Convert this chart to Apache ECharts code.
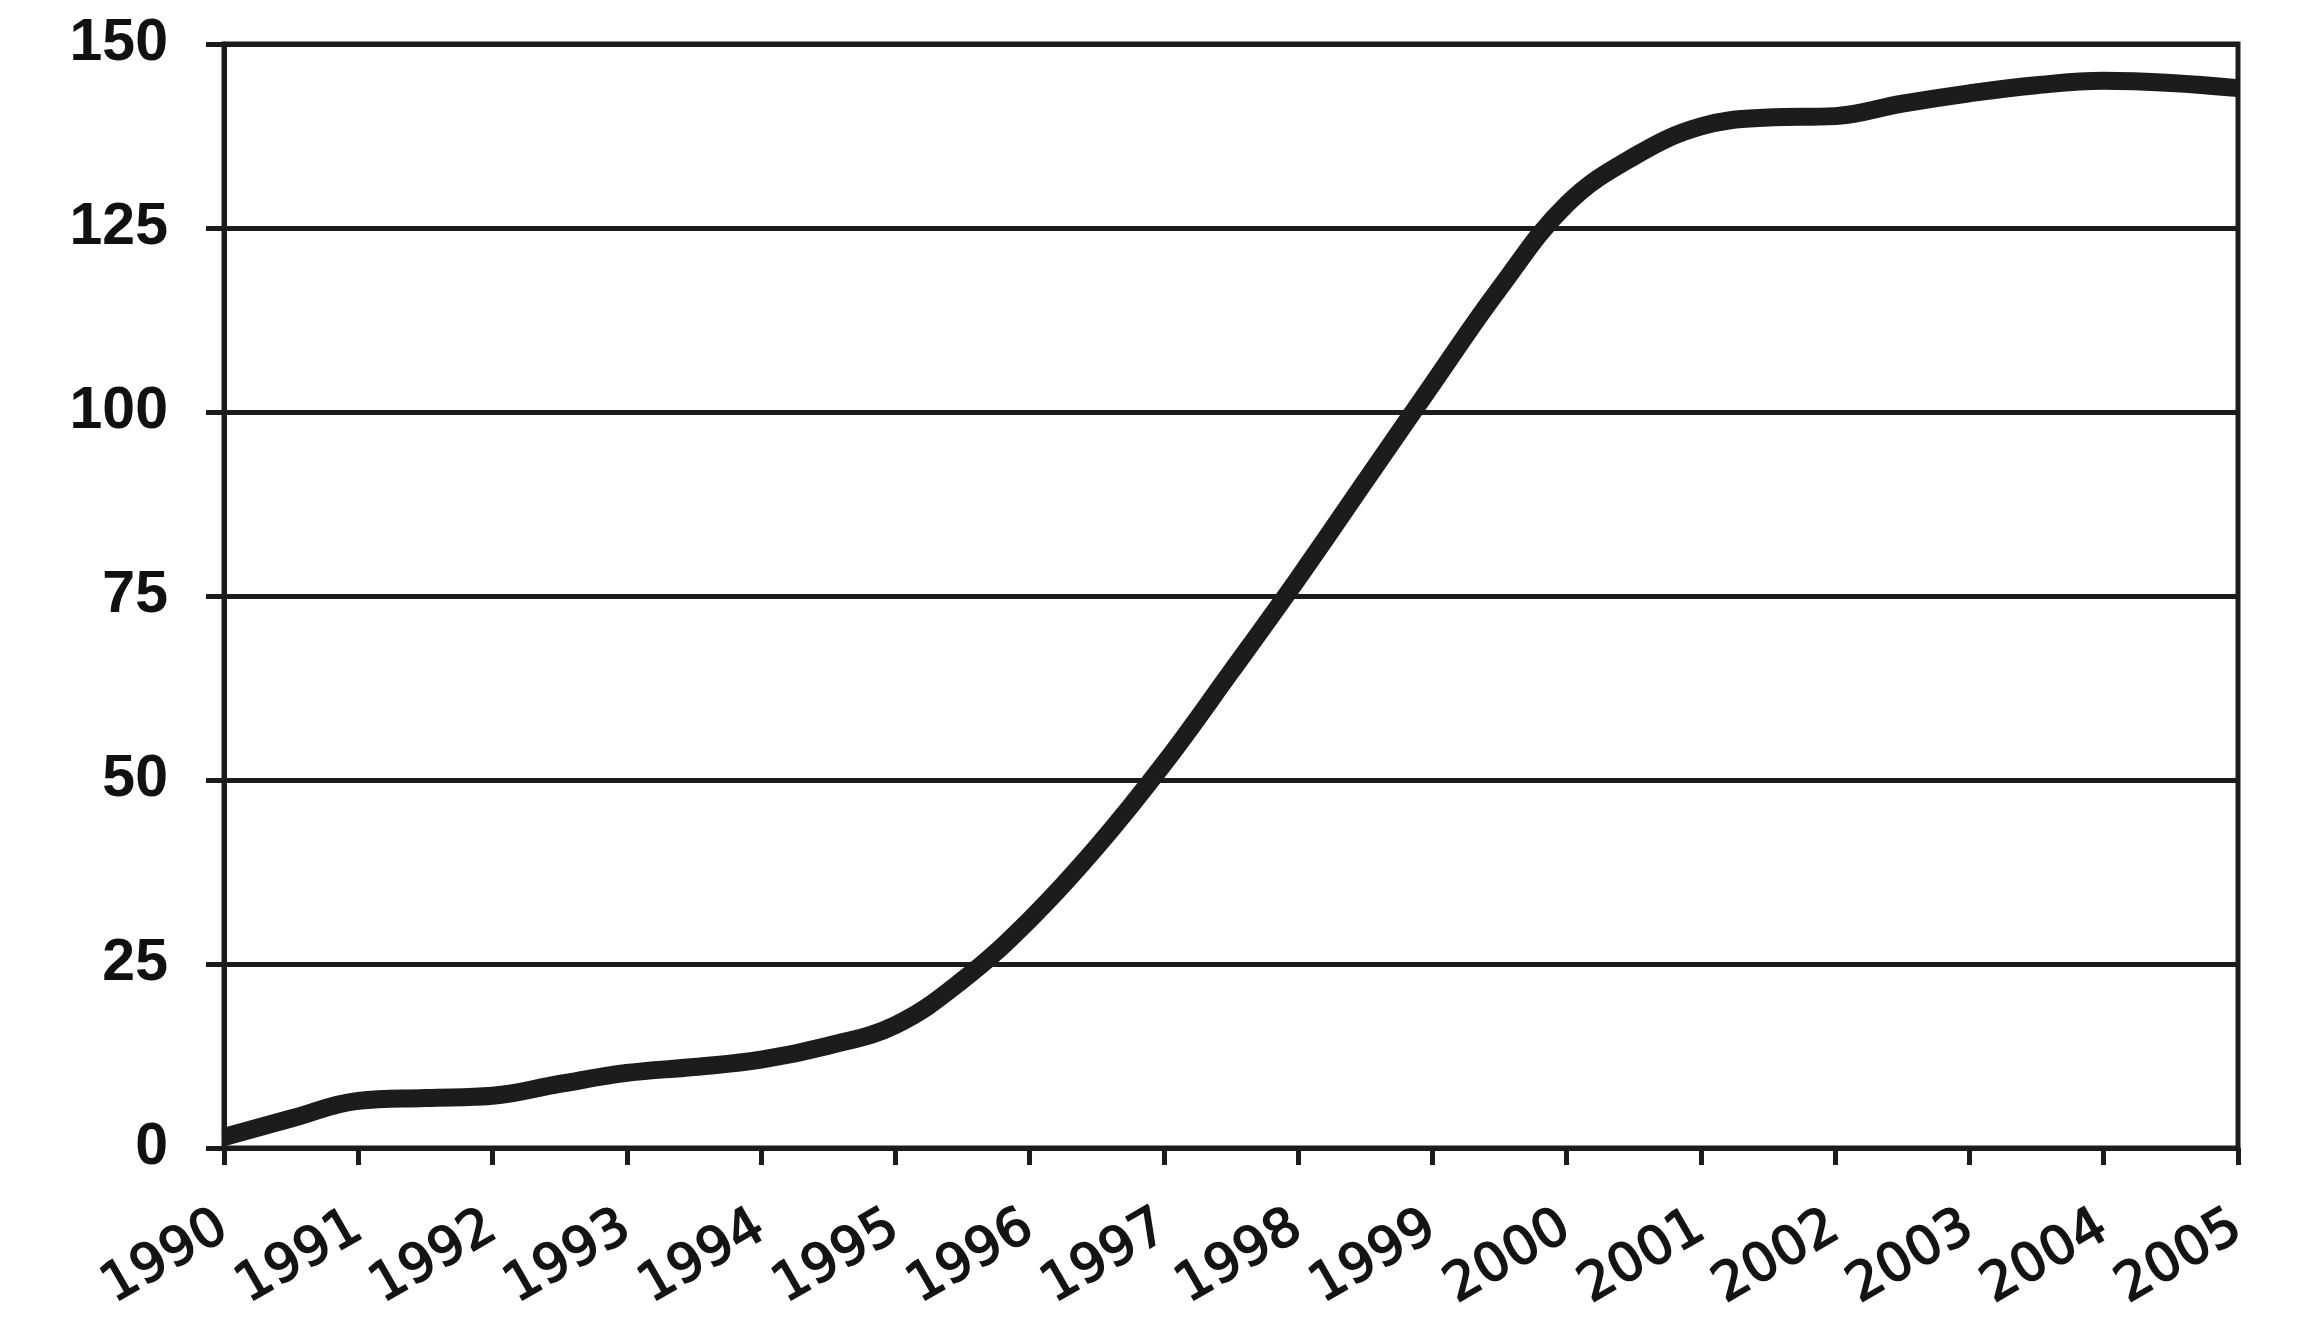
<!DOCTYPE html>
<html>
<head>
<meta charset="utf-8">
<script src="https://cdn.jsdelivr.net/npm/echarts@6/dist/echarts.min.js"></script>
<style>
  html, body { margin: 0; padding: 0; background: #ffffff; }
  #chart { width: 2315px; height: 1337px; }
</style>
</head>
<body>
<div id="chart"></div>
<script>
// Data
const years = [1990, 1990.5, 1991, 1991.5, 1992, 1992.5, 1993, 1993.5, 1994, 1994.5,
               1995, 1995.5, 1996, 1996.5, 1997, 1997.5, 1998, 1998.5, 1999, 1999.5,
               2000, 2000.5, 2001, 2001.5, 2002, 2002.5, 2003, 2003.5, 2004, 2004.5, 2005];
const values = [1.5, 4.0, 6.4, 6.8, 7.1, 8.7, 10.2, 11.0, 12.0, 13.9,
                16.7, 22.8, 31.0, 40.9, 52.2, 64.7, 77.4, 90.6, 103.8, 116.8,
                128.2, 134.7, 138.8, 140.0, 140.2, 141.9, 143.3, 144.4, 145.0, 144.7, 144.0];
const xTickLabels = [1990, 1991, 1992, 1993, 1994, 1995, 1996, 1997, 1998, 1999,
                     2000, 2001, 2002, 2003, 2004, 2005];
const yTickLabels = [0, 25, 50, 75, 100, 125, 150];

const seriesData = years.map((y, i) => [y, values[i]]);
const ink = '#1c1c1c';

const chart = echarts.init(document.getElementById('chart'), null, { renderer: 'canvas' });
chart.setOption({
  backgroundColor: '#ffffff',
  animation: false,
  grid: {
    left: 224, right: 77, top: 44, bottom: 189,
    show: true, borderColor: ink, borderWidth: 5, backgroundColor: 'transparent'
  },
  xAxis: {
    type: 'value',
    min: xTickLabels[0],
    max: xTickLabels[xTickLabels.length - 1],
    interval: 1,
    axisLine: { show: true, lineStyle: { color: ink, width: 5 } },
    axisTick: { show: true, length: 17, lineStyle: { color: ink, width: 5 } },
    splitLine: { show: false },
    axisLabel: {
      rotate: 30,
      margin: 76,
      color: '#141414',
      fontFamily: 'DejaVu Sans',
      fontWeight: 'normal',
      fontSize: 53,
      textBorderColor: '#141414',
      textBorderWidth: 1.6,
      formatter: v => String(v)
    }
  },
  yAxis: {
    type: 'value',
    min: yTickLabels[0],
    max: yTickLabels[yTickLabels.length - 1],
    interval: 25,
    axisLine: { show: true, lineStyle: { color: ink, width: 5 } },
    axisTick: { show: true, length: 18, lineStyle: { color: ink, width: 5 } },
    splitLine: { show: true, lineStyle: { color: ink, width: 5 } },
    axisLabel: {
      margin: 56,
      color: '#111111',
      fontFamily: 'Liberation Sans',
      fontWeight: 'bold',
      fontSize: 59
    }
  },
  series: [{
    type: 'line',
    data: seriesData,
    smooth: 0.4,
    showSymbol: false,
    symbol: 'none',
    lineStyle: { color: ink, width: 18, cap: 'butt', join: 'round' }
  }]
});
</script>
</body>
</html>
